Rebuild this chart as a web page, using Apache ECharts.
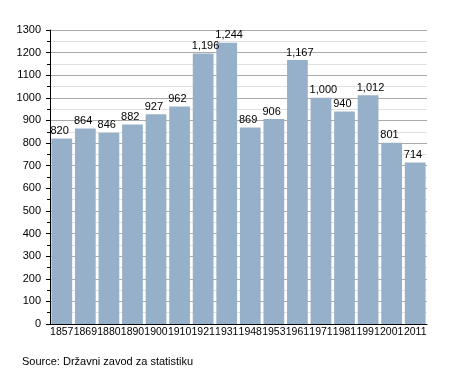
<!DOCTYPE html>
<html><head><meta charset="utf-8">
<script src="https://cdn.jsdelivr.net/npm/echarts@6/dist/echarts.min.js"></script>
<style>html,body{margin:0;padding:0;background:#fff}#c{width:455px;height:373px}</style>
</head><body><div id="c"></div>
<script>
const years = ['1857','1869','1880','1890','1900','1910','1921','1931','1948','1953','1961','1971','1981','1991','2001','2011'];
const population = [820,864,846,882,927,962,1196,1244,869,906,1167,1000,940,1012,801,714];
const yTicks = {min:0, max:1300, interval:100};
const sourceText = 'Source: Državni zavod za statistiku';

const chart = echarts.init(document.getElementById('c'), null, {renderer:'canvas'});
const font = 'Liberation Sans, Arial, sans-serif';
chart.setOption({
  animation:false,
  backgroundColor:'#fff',
  grid:{left:50, right:28, top:30, bottom:49},
  graphic:[{type:'text', left:22, top:356, style:{text:sourceText, font:'11px '+font, fill:'#000'}}],
  xAxis:{type:'category', data:years,
    axisLine:{lineStyle:{color:'#000', width:1}},
    axisTick:{show:false},
    axisLabel:{color:'#000', fontFamily:font, fontSize:10.5, margin:3, interval:0}},
  yAxis:{type:'value', min:yTicks.min, max:yTicks.max, interval:yTicks.interval,
    axisLine:{show:true, lineStyle:{color:'#000'}},
    axisTick:{show:true, length:4, lineStyle:{color:'#000'}},
    minorTick:{show:true, splitNumber:2, length:3, lineStyle:{color:'#000'}},
    splitLine:{lineStyle:{color:'#aaa', width:1}},
    minorSplitLine:{show:true, lineStyle:{color:'#e0e0e0', width:1}},
    axisLabel:{color:'#000', fontFamily:font, fontSize:11, margin:9, formatter:v=>String(v)}},
  series:[{type:'bar', data:population, barCategoryGap:'12%',
    itemStyle:{color:'#97b0c9'},
    label:{show:true, position:[-1,-13], align:'left', verticalAlign:'top', color:'#000', fontFamily:font, fontSize:11,
      formatter:p=>p.value.toLocaleString('en-US')}}]
});
</script></body></html>
